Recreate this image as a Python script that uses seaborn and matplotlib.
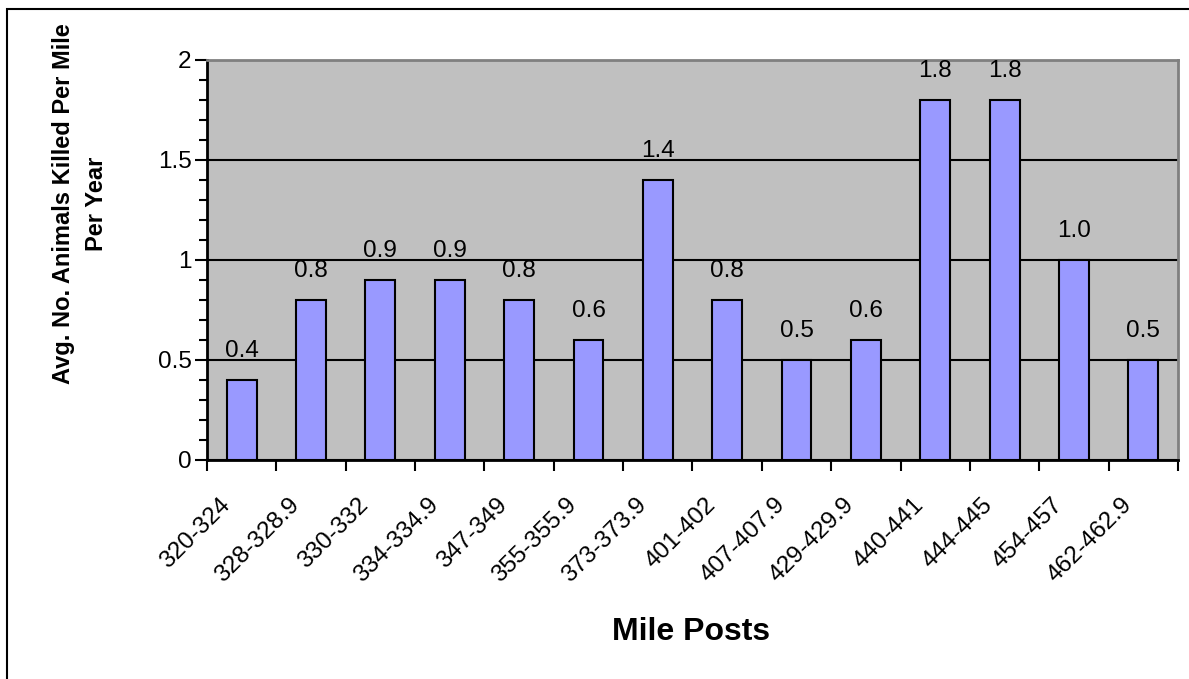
import matplotlib
matplotlib.use("Agg")
import matplotlib.pyplot as plt
import matplotlib.transforms as mtransforms
from matplotlib.patches import Rectangle
from matplotlib.ticker import MultipleLocator, FuncFormatter
import seaborn as sns

# data
mile_posts = ["320-324", "328-328.9", "330-332", "334-334.9", "347-349", "355-355.9",
              "373-373.9", "401-402", "407-407.9", "429-429.9", "440-441", "444-445",
              "454-457", "462-462.9"]
kills_per_mile = [0.4, 0.8, 0.9, 0.9, 0.8, 0.6, 1.4, 0.8, 0.5, 0.6, 1.8, 1.8, 1.0, 0.5]

sns.set_theme(style="white")
plt.rcParams["font.family"] = ["Liberation Sans", "DejaVu Sans"]
plt.rcParams["text.color"] = "black"
plt.rcParams["axes.labelcolor"] = "black"
plt.rcParams["xtick.color"] = "black"
plt.rcParams["ytick.color"] = "black"

fig = plt.figure(figsize=(11.89, 6.79), dpi=100)
ax = fig.add_axes([207 / 1189, 1 - 460 / 679, 971 / 1189, 400 / 679])
ax.set_facecolor("#C0C0C0")

sns.barplot(x=mile_posts, y=kills_per_mile, color="#9999FF", saturation=1,
            edgecolor="black", linewidth=1.5, width=0.43, ax=ax, zorder=3)

ax.bar_label(ax.containers[0], fmt="%.1f", padding=13, fontsize=17.5, color="black")

ax.set_xlim(-0.5, len(mile_posts) - 0.5)
ax.set_ylim(0, 2)
ax.yaxis.set_major_locator(MultipleLocator(0.5))
ax.yaxis.set_minor_locator(MultipleLocator(0.1))
ax.yaxis.set_major_formatter(FuncFormatter(lambda v, p: "%g" % v))
ax.grid(axis="y", which="major", color="black", linewidth=1.5, zorder=1)
ax.set_axisbelow(True)

# tick marks between categories, labels at centres
ax.set_xticks([i - 0.5 for i in range(len(mile_posts) + 1)], minor=True)
ax.tick_params(axis="x", which="major", length=0, pad=30, labelsize=17.5)
ax.tick_params(axis="x", which="minor", length=8, width=1.5, direction="out",
               color="black", bottom=True)
ax.tick_params(axis="y", which="major", length=9, width=1.5, direction="out",
               color="black", labelsize=17.5, pad=2, left=True)
ax.tick_params(axis="y", which="minor", length=6, width=1.5, direction="out",
               color="black", left=True)

shift = mtransforms.ScaledTranslation(-15 / 100, 0, fig.dpi_scale_trans)
for lab in ax.get_xticklabels():
    lab.set_rotation(45)
    lab.set_ha("right")
    lab.set_va("center")
    lab.set_rotation_mode("anchor")
    lab.set_transform(lab.get_transform() + shift)

for side in ["left", "bottom"]:
    ax.spines[side].set_color("black")
    ax.spines[side].set_linewidth(2)
for side in ["top", "right"]:
    ax.spines[side].set_color("#808080")
    ax.spines[side].set_linewidth(2)

ax.set_xlabel("Mile Posts", fontsize=23, fontweight="bold", va="center", color="black")
ax.xaxis.set_label_coords(0.4985, -0.43)
ax.set_ylabel("Avg. No. Animals Killed Per Mile\nPer Year", fontsize=17,
              fontweight="bold", va="center", linespacing=1.55, color="black")
ax.yaxis.set_label_coords(-0.131, 0.64)

# outer chart border
fig.patches.append(Rectangle((7 / 1189, -0.05), 1.1, 1 - 9 / 679 + 0.05,
                             transform=fig.transFigure, fill=False,
                             edgecolor="black", linewidth=1.5))

fig.savefig("out.png", dpi=100)
